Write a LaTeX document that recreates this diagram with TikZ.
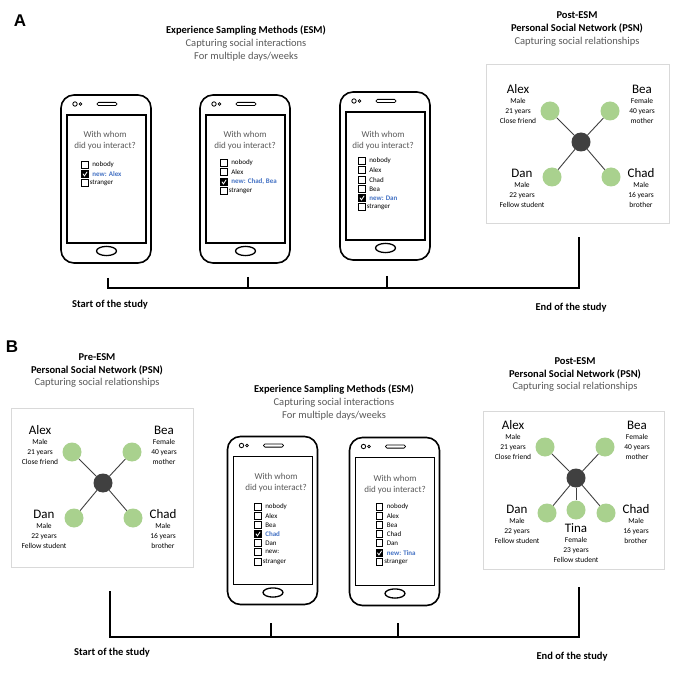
\documentclass[tikz,border=0pt]{standalone}
\usepackage{fontspec}
\setmainfont{Carlito}
\newfontfamily\panelfont{Liberation Sans}
\usetikzlibrary{shapes.geometric}
\definecolor{leaf}{HTML}{A9D18E}
\definecolor{hubc}{HTML}{404040}
\definecolor{txtgray}{HTML}{595959}
\definecolor{newblue}{HTML}{4472C4}
\definecolor{framec}{HTML}{D9D9D9}
\tikzset{
  panel/.style={inner sep=0pt, font=\panelfont\bfseries\fontsize{17}{17}\selectfont},
  heading/.style={align=center, inner sep=0pt, font=\fontsize{10.5}{12.8}\selectfont},
  qtext/.style={align=center, inner sep=0pt, text=txtgray, font=\fontsize{9}{11}\selectfont},
  cbox/.style={draw, line width=0.7pt, minimum size=6.5pt, inner sep=0pt, fill=white},
  cboxon/.style={cbox, fill=black, path picture={\draw[white, line width=0.8pt]
     ([xshift=1.2pt,yshift=0.3pt]path picture bounding box.west) --
     ([xshift=-0.6pt,yshift=1.3pt]path picture bounding box.south) --
     ([xshift=-1.1pt,yshift=-1.1pt]path picture bounding box.north east);}},
  cblab/.style={anchor=west, inner sep=0pt, font=\fontsize{7}{8}\selectfont},
  newlab/.style={anchor=west, inner sep=0pt, text=newblue, font=\fontsize{7}{8}\selectfont\bfseries},
  psnbox/.style={draw=framec, line width=0.8pt},
  hubn/.style={circle, fill=hubc, minimum size=19pt, inner sep=0pt},
  leafn/.style={circle, fill=leaf, minimum size=19pt, inner sep=0pt},
  edge/.style={draw=hubc, line width=0.9pt},
  pname/.style={inner sep=0pt, font=\fontsize{13}{13}\selectfont},
  pinfo/.style={inner sep=0pt, align=center, font=\fontsize{7.5}{10}\selectfont},
  timeline/.style={line width=2pt, line join=miter},
  tllab/.style={inner sep=0pt, font=\fontsize{10.5}{12}\selectfont\bfseries},
  phone/.pic={
    \draw[line width=1.6pt, rounded corners=13pt] (-45,-84) rectangle (45,84);
    \draw[line width=1.3pt] (-39,-64) rectangle (40,64);
    \draw[line width=0.8pt] (-31,-75) circle (2.2pt);
    \draw[line width=0.8pt] (-25.5,-75) circle (1.4pt);
    \draw[line width=0.8pt, rounded corners=1.5pt] (-9,-76.6) rectangle (11,-73.4);
    \draw[line width=1.3pt] (0.5,72) ellipse (10pt and 4.6pt);
  }
}
% checkbox row: name, position, box style, label style, gap, text
\newcommand\cbr[6]{\node[#3] (#1) at (#2) {};
  \node[#4] (#1t) at ([xshift=#5]#1.east) {#6};}
\newcommand\psnbase{%
  \node[hubn] (hub) at (0,0) {};
  \node[leafn] (alex) at (-31,-31) {};
  \node[leafn] (bea) at (29,-31) {};
  \node[leafn] (dan) at (-29,35) {};
  \node[leafn] (chad) at (30,35) {};
  \draw[edge] (hub) -- (alex);
  \draw[edge] (hub) -- (bea);
  \draw[edge] (hub) -- (dan);
  \draw[edge] (hub) -- (chad);
  \node[pname] (alexn) at (-63,-53) {Alex};
  \node[pinfo] (alexi) at (-63,-31) {Male\\21 years\\Close friend};
  \node[pname] (bean) at (61,-53) {Bea};
  \node[pinfo] (beai) at (61,-31) {Female\\40 years\\mother};
  \node[pname] (dann) at (-59,31) {Dan};
  \node[pinfo] (dani) at (-59,53) {Male\\22 years\\Fellow student};
  \node[pname] (chadn) at (60,31) {Chad};
  \node[pinfo] (chadi) at (60,53) {Male\\16 years\\brother};
}
\begin{document}
\begin{tikzpicture}[x=1pt,y=-1pt]
\fill[white] (0,0) rectangle (680,676);
\useasboundingbox (0,0) rectangle (680,676);

%================ PANEL A ================
\node[panel] (labA) at (20,21) {A};
\node[heading] (escA) at (246,43.5) {{\bfseries Experience Sampling Methods (ESM)}\\
  \textcolor{txtgray}{Capturing social interactions}\\ \textcolor{txtgray}{For multiple days/weeks}};

\pic (pA1) at (106,179) {phone};
\pic (pA2) at (245,179) {phone};
\pic (pA3) at (385,176) {phone};

% phone A1
\node[qtext] (qA1) at (105,140.5) {With whom\\did you interact?};
\cbr{a1a}{85,165}{cbox}{cblab}{3.5pt}{nobody}
\cbr{a1b}{85,174}{cboxon}{newlab}{3.5pt}{new: Alex}
\cbr{a1c}{85,183}{cbox}{cblab}{1pt}{stranger}

% phone A2
\node[qtext] (qA2) at (245,140.5) {With whom\\did you interact?};
\cbr{a2a}{224,163}{cbox}{cblab}{3.5pt}{nobody}
\cbr{a2b}{224,172}{cbox}{cblab}{3.5pt}{Alex}
\cbr{a2c}{224,182}{cboxon}{newlab}{3.5pt}{new: Chad, Bea}
\cbr{a2d}{224,191}{cbox}{cblab}{1pt}{stranger}

% phone A3
\node[qtext] (qA3) at (383,141) {With whom\\did you interact?};
\cbr{a3a}{362,161}{cbox}{cblab}{3.5pt}{nobody}
\cbr{a3b}{362,170}{cbox}{cblab}{3.5pt}{Alex}
\cbr{a3c}{362,180}{cbox}{cblab}{3.5pt}{Chad}
\cbr{a3d}{362,189}{cbox}{cblab}{3.5pt}{Bea}
\cbr{a3e}{362,198}{cboxon}{newlab}{3.5pt}{new: Dan}
\cbr{a3f}{362,207}{cbox}{cblab}{1pt}{stranger}

% PSN A
\node[heading] (psnhA) at (577,29) {{\bfseries Post-ESM}\\ {\bfseries Personal Social Network (PSN)}\\
  \textcolor{txtgray}{Capturing social relationships}};
\draw[psnbox] (486,64) rectangle (669,223);
\begin{scope}[shift={(581,142)}, name prefix=A-]
  \psnbase
\end{scope}

% timeline A
\coordinate (tA0top) at (108,278);
\coordinate (tA0) at (108,288);
\coordinate (tA1top) at (248,277);
\coordinate (tA1) at (248,288);
\coordinate (tA2top) at (387,276);
\coordinate (tA2) at (387,288);
\coordinate (tAend) at (579,288);
\coordinate (tAendtop) at (579,237);
\draw[timeline] (tA0top) -- (tA0) -- (tAend) -- (tAendtop);
\draw[timeline] (tA1top) -- (tA1);
\draw[timeline] (tA2top) -- (tA2);
\node[tllab] (startA) at (110,305) {Start of the study};
\node[tllab] (endA) at (571,308) {End of the study};

%================ PANEL B ================
\node[panel] (labB) at (12,347) {B};

% PSN pre
\node[heading] (psnhB1) at (97,370.5) {{\bfseries Pre-ESM}\\ {\bfseries Personal Social Network (PSN)}\\
  \textcolor{txtgray}{Capturing social relationships}};
\draw[psnbox] (11,408) rectangle (193,567);
\begin{scope}[shift={(103,483)}, name prefix=B-]
  \psnbase
\end{scope}

% ESM B
\node[heading] (escB) at (334,402.5) {{\bfseries Experience Sampling Methods (ESM)}\\
  \textcolor{txtgray}{Capturing social interactions}\\ \textcolor{txtgray}{For multiple days/weeks}};
\pic (pB1) at (272.5,520.5) {phone};
\pic (pB2) at (394.5,521.5) {phone};

\node[qtext] (qB1) at (276,482.5) {With whom\\did you interact?};
\cbr{b1a}{258,507}{cbox}{cblab}{3.5pt}{nobody}
\cbr{b1b}{258,516}{cbox}{cblab}{3.5pt}{Alex}
\cbr{b1c}{258,525}{cbox}{cblab}{3.5pt}{Bea}
\cbr{b1d}{258,534}{cboxon}{newlab}{3.5pt}{Chad}
\cbr{b1e}{258,543}{cbox}{cblab}{3.5pt}{Dan}
\cbr{b1f}{258,552}{cbox}{cblab}{3.5pt}{new:}
\cbr{b1g}{258,562}{cbox}{cblab}{1pt}{stranger}

\node[qtext] (qB2) at (395,484.5) {With whom\\did you interact?};
\cbr{b2a}{379.5,507}{cbox}{cblab}{3.5pt}{nobody}
\cbr{b2b}{379.5,516}{cbox}{cblab}{3.5pt}{Alex}
\cbr{b2c}{379.5,525}{cbox}{cblab}{3.5pt}{Bea}
\cbr{b2d}{379.5,534}{cbox}{cblab}{3.5pt}{Chad}
\cbr{b2e}{379.5,543}{cbox}{cblab}{3.5pt}{Dan}
\cbr{b2f}{379.5,553}{cboxon}{newlab}{3.5pt}{new: Tina}
\cbr{b2g}{379.5,562}{cbox}{cblab}{1pt}{stranger}

% PSN post
\node[heading] (psnhB2) at (575,374.5) {{\bfseries Post-ESM}\\ {\bfseries Personal Social Network (PSN)}\\
  \textcolor{txtgray}{Capturing social relationships}};
\draw[psnbox] (483,411) rectangle (664,569);
\begin{scope}[shift={(576,478)}, name prefix=C-]
  \psnbase
  \node[leafn] (tina) at (0,32) {};
  \draw[edge] (hub) -- (tina);
  \node[pname] (tinan) at (0,50) {Tina};
  \node[pinfo] (tinai) at (0,72) {Female\\23 years\\Fellow student};
\end{scope}

% timeline B
\coordinate (tB0top) at (110,591);
\coordinate (tB0) at (110,637);
\coordinate (tB1top) at (271,623);
\coordinate (tB1) at (271,637);
\coordinate (tB2top) at (398,623);
\coordinate (tB2) at (398,637);
\coordinate (tBend) at (579,637);
\coordinate (tBendtop) at (579,587);
\draw[timeline] (tB0top) -- (tB0) -- (tBend) -- (tBendtop);
\draw[timeline] (tB1top) -- (tB1);
\draw[timeline] (tB2top) -- (tB2);
\node[tllab] (startB) at (112,653) {Start of the study};
\node[tllab] (endB) at (572,657) {End of the study};
\end{tikzpicture}
\end{document}
